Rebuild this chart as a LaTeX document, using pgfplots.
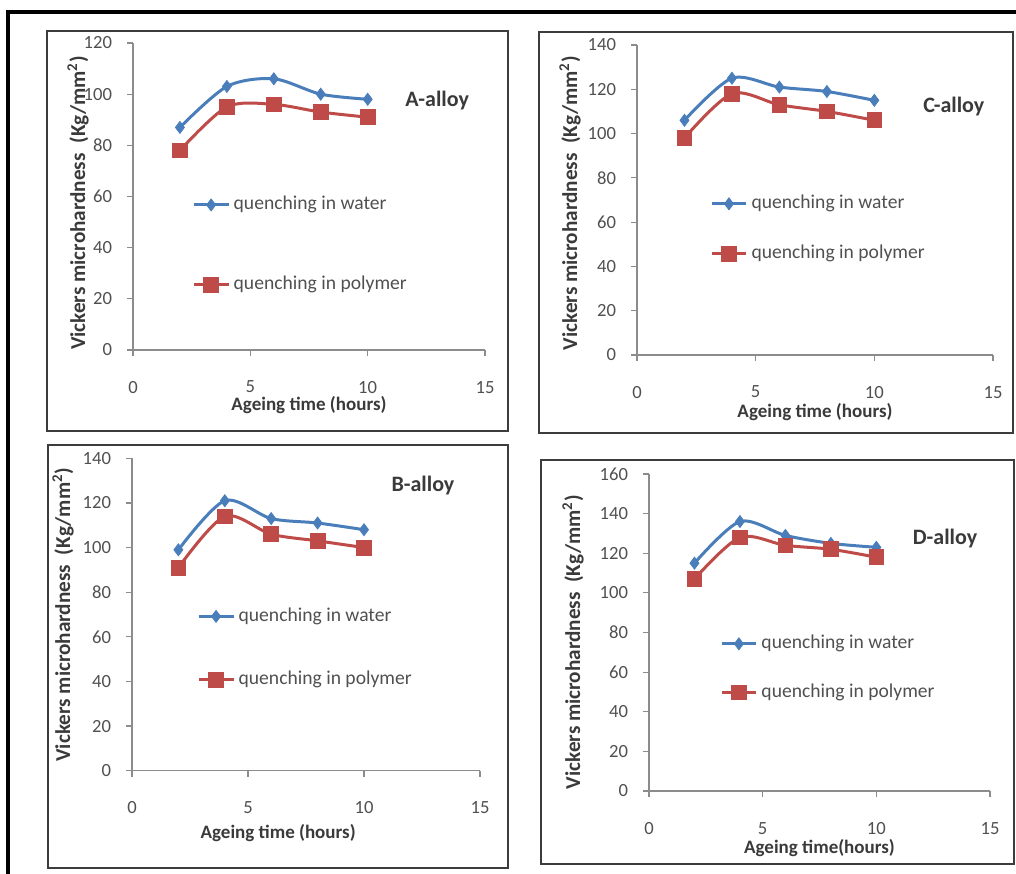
\documentclass[border=0pt]{standalone}
\usepackage{fontspec}
\setmainfont{Carlito}
\usepackage{pgfplots}
\pgfplotsset{compat=1.18}

\definecolor{wblue}{HTML}{4A7EBB}
\definecolor{pred}{HTML}{BE4B48}
\definecolor{axisgray}{HTML}{8C8C8C}
\definecolor{ticktext}{HTML}{505050}
\definecolor{labeltext}{HTML}{3A3A3A}
\definecolor{boxgray}{HTML}{3C3C3C}

\tikzset{alloy/.style={font=\bfseries\fontsize{11}{13}\selectfont, text=labeltext}}

\pgfplotsset{
  panel/.style={
    scale only axis, xmin=0, xmax=15, ymin=0,
    xtick={0,5,10,15}, ytick distance=20,
    axis lines=left,
    axis line style={-, draw=axisgray, line width=0.6pt},
    tick align=outside, major tick length=3pt,
    tick style={axisgray, line width=0.6pt},
    tick label style={font=\fontsize{9.3}{10}\selectfont, text=ticktext},
    /pgf/number format/assume math mode=true,
    xticklabel shift=9pt, yticklabel shift=4pt,
    xlabel style={font=\bfseries\fontsize{9.5}{11}\selectfont, text=labeltext},
    ylabel style={font=\bfseries\fontsize{10.6}{12}\selectfont, text=labeltext},
    xlabel={Ageing time (hours)},
    ylabel={Vickers microhardness\ \ (Kg/mm\textsuperscript{2})},
    clip=false,
    legend cell align=left,
    legend style={draw=none, fill=none, inner sep=0pt, anchor=north west,
      font=\fontsize{9.8}{11}\selectfont, text=ticktext,
      nodes={inner sep=0pt, text height=7pt, text depth=2pt}, column sep=2pt},
  },
  water/.style={smooth, tension=0.5, color=wblue, line width=1.5pt,
    mark=diamond*, mark size=3pt,
    mark options={fill=wblue, draw=wblue, line width=0.4pt}},
  poly/.style={smooth, tension=0.5, color=pred, line width=1.5pt,
    mark=square*, mark size=3.7pt,
    mark options={fill=pred, draw=pred, line width=0.4pt}},
}

\begin{document}
\begin{tikzpicture}
\useasboundingbox (0,0) rectangle (508pt,436.5pt);

% outer frame (left and top edges are visible)
\draw[black, line width=1.6pt] (4pt,-5pt) -- (4pt,430.5pt) -- (515pt,430.5pt);

% panel frames
\draw[boxgray, line width=1pt] (23.5pt,221pt) rectangle (254pt,421pt);
\draw[boxgray, line width=1pt] (269.5pt,220pt) rectangle (506.5pt,420.5pt);
\draw[boxgray, line width=1pt] (24pt,2.5pt) rectangle (254pt,214pt);
\draw[boxgray, line width=1pt] (270.5pt,4.5pt) rectangle (507pt,206.5pt);

% ---------------- A-alloy ----------------
\begin{axis}[panel, at={(66.5pt,261.5pt)}, anchor=south west,
  width=176pt, height=153.5pt, ymax=120,
  xlabel style={at={(axis description cs:0.5,-0.179)}, anchor=center},
  ylabel style={at={(axis description cs:-0.156,0.479)}, anchor=center},
  legend style={at={(axis description cs:0.168,0.503)}, row sep=31pt}]
\addplot[water] coordinates {(2,87) (4,103) (6,106) (8,100) (10,98)};
\addplot[poly] coordinates {(2,78) (4,95) (6,96) (8,93) (10,91)};
\legend{quenching in water, quenching in polymer}
\node[alloy] at (rel axis cs:0.864,0.814) {A-alloy};
\end{axis}

% ---------------- C-alloy ----------------
\begin{axis}[panel, at={(318.5pt,259pt)}, anchor=south west,
  width=178pt, height=155pt, ymax=140,
  xlabel style={at={(axis description cs:0.5,-0.184)}, anchor=center},
  ylabel style={at={(axis description cs:-0.188,0.49)}, anchor=center},
  legend style={at={(axis description cs:0.205,0.518)}, row sep=16pt}]
\addplot[water] coordinates {(2,106) (4,125) (6,121) (8,119) (10,115)};
\addplot[poly] coordinates {(2,98) (4,118) (6,113) (8,110) (10,106)};
\legend{quenching in water, quenching in polymer}
\node[alloy] at (rel axis cs:0.89,0.803) {C-alloy};
\end{axis}

% ---------------- B-alloy ----------------
\begin{axis}[panel, at={(66pt,51.15pt)}, anchor=south west,
  width=174pt, height=156.2pt, ymax=140,
  xlabel style={at={(axis description cs:0.42,-0.198)}, anchor=center},
  ylabel style={at={(axis description cs:-0.198,0.5)}, anchor=center},
  legend style={at={(axis description cs:0.187,0.524)}, row sep=22.7pt}]
\addplot[water] coordinates {(2,99) (4,121) (6,113) (8,111) (10,108)};
\addplot[poly] coordinates {(2,91) (4,114) (6,106) (8,103) (10,100)};
\legend{quenching in water, quenching in polymer}
\node[alloy] at (rel axis cs:0.836,0.914) {B-alloy};
\end{axis}

% ---------------- D-alloy ----------------
\begin{axis}[panel, at={(324.5pt,41pt)}, anchor=south west,
  width=170.5pt, height=158.5pt, ymax=160,
  xlabel={Ageing time(hours)},
  xlabel style={at={(axis description cs:0.5,-0.18)}, anchor=center},
  ylabel style={at={(axis description cs:-0.223,0.47)}, anchor=center},
  legend style={at={(axis description cs:0.208,0.494)}, row sep=15.3pt}]
\addplot[water] coordinates {(2,115) (4,136) (6,129) (8,125) (10,123)};
\addplot[poly] coordinates {(2,107) (4,128) (6,124) (8,122) (10,118)};
\legend{quenching in water, quenching in polymer}
\node[alloy] at (rel axis cs:0.868,0.795) {D-alloy};
\end{axis}
\end{tikzpicture}
\end{document}
